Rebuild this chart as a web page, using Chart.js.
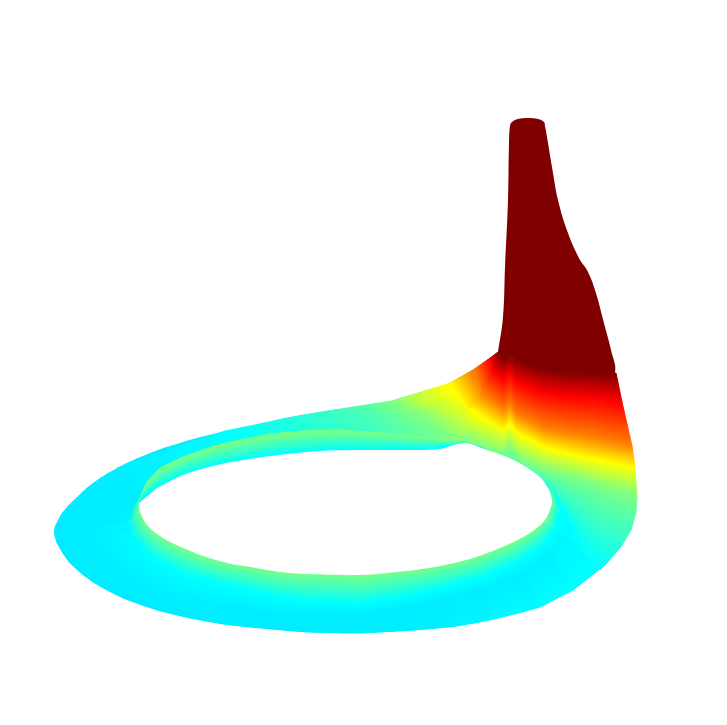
<!DOCTYPE html>
<html>
<head>
<meta charset="utf-8">
<title>Surface</title>
<script src="https://cdn.jsdelivr.net/npm/chart.js@4/dist/chart.umd.min.js"></script>
<style>
  html, body { margin: 0; padding: 0; background: #fff; }
  canvas { display: block; }
</style>
</head>
<body>
<canvas id="chart" width="727" height="725"></canvas>
<script>
// outlines, [x, y]
const outerEdge = [[498,352],[480,365],[460,377],[440,387],[420,393],[392,401],[360,406],[320,412],[285,418],[250,426],[217,433],[183,442],[150,453],[117,468],[93,483],[77,497],[63,512],[55,527],[54,533],[57,543],[70,563],[93,582],[123,598],[157,610],[190,618],[223,624],[250,627],[307,632],[360,633],[415,630],[457,626],[490,620],[540,607],[555,599],[573,590],[590,577],[607,563],[615,553],[623,543],[628,535],[632,523],[634,510],[634,497],[633,480],[631,467],[628,446],[618,402],[610,380],[505,365]];
const holeEdge = [[139,503],[140,512],[147,525],[157,534],[170,542],[188,550],[200,555],[227,563],[250,567],[280,572],[307,574],[360,575],[407,571],[440,566],[473,558],[507,545],[530,533],[545,520],[552,502],[548,488],[540,477],[523,465],[507,457],[487,450],[465,443],[440,449],[420,450],[387,450],[353,450],[320,451],[287,454],[250,459],[217,465],[183,475],[157,488]];
const spire = [[498,352],[503,317],[505,267],[508,200],[509,143],[510,126],[512,122],[518,119],[528,118],[538,119],[544,122],[545,126],[547,137],[552,167],[558,200],[568,233],[580,260],[587,270],[595,290],[605,327],[611,350],[615,372],[605,373],[590,373],[565,372],[540,368],[516,360],[510,357],[504,358],[500,356]];

// back strip, iso lines crossing it from left to right
const stripRow1 = [[117,468],[125,482],[133,500]];
const stripRow2 = [[225,431],[232,438],[240,447]];
const stripRow3 = [[310,414],[330,424],[350,440]];
const stripRow4 = [[360,406],[378,420],[400,440]];
const stripRow5 = [[392,401],[430,422],[463,441]];
const stripRow6 = [[448,384],[458,397],[470,410]];
const stripValues = [0.358, 0.375, 0.42, 0.45, 0.5, 0.625];

// rim along the top of the strip where it bends towards the spire
const rimRow1 = [[392,401],[405,409]];
const rimRow2 = [[420,393],[430,406]];
const rimRow3 = [[448,384],[452,392]];
const rimValues = [0.5, 0.57, 0.625];

// inner wall behind the hole
const wallTop = [[128,523],[133,510],[140,497],[147,482],[160,468],[183,457],[217,445],[250,438],[270,434],[303,431],[337,430],[370,432],[403,435],[437,438],[463,442]];
const wallBottom = [[139,510],[139,505],[139,502],[148,494],[157,488],[183,475],[217,465],[250,459],[287,454],[320,451],[353,450],[387,450],[420,450],[440,449],[465,443]];
const wallTopValues = [0.39,0.42,0.47,0.5,0.5,0.5,0.5,0.5,0.5,0.5,0.5,0.5,0.5,0.5,0.5];
const wallBottomValue = 0.375;

// front of the ring, same stations on each row
const frontHole = [[139,503],[140,512],[147,525],[157,534],[170,542],[188,550],[200,555],[227,563],[250,567],[280,572],[307,574],[360,575],[407,571],[440,566],[473,558],[507,545],[530,533],[545,520],[552,502],[548,488]];
const frontCyan = [[133,507],[128,522],[131,533],[142,548],[155,559],[172,568],[185,574],[217,583],[245,589],[275,597],[300,601],[360,605],[415,595],[450,586],[485,577],[522,560],[545,543],[556,528],[560,510],[555,493]];
const frontRidge = [[100,515],[95,525],[98,538],[110,553],[125,568],[140,577],[155,587],[190,600],[225,607],[265,612],[295,614],[360,614],[418,604],[455,597],[490,588],[527,572],[552,553],[564,536],[568,515],[562,497]];
const frontOuter = [[63,512],[55,527],[57,543],[70,563],[93,582],[123,598],[157,610],[190,618],[223,624],[250,627],[307,632],[360,633],[415,630],[457,626],[490,620],[540,607],[573,590],[607,563],[623,543],[633,523]];
const frontHoleValue = 0.49;
const frontCyanValues = [0.358,0.362,0.37,0.375,0.375,0.375,0.375,0.375,0.375,0.375,0.375,0.375,0.375,0.375,0.375,0.375,0.375,0.375,0.375,0.375];
const frontRidgeValues = [0.358,0.358,0.36,0.36,0.36,0.36,0.36,0.36,0.358,0.358,0.358,0.358,0.358,0.358,0.358,0.358,0.362,0.37,0.375,0.375];
const frontOuterValues = [0.358,0.358,0.355,0.355,0.355,0.355,0.355,0.355,0.355,0.355,0.355,0.355,0.358,0.362,0.368,0.375,0.375,0.375,0.375,0.375];

// lower right of the ring, iso lines run towards the outer edge
const rightRow50 = [[480,445],[510,447],[520,460],[547,470],[570,476],[600,485],[637,497]];
const rightRow47 = [[495,455],[520,462],[533,470],[556,480],[580,489],[610,502],[636,512]];
const rightRow44 = [[505,465],[530,470],[545,480],[560,490],[582,505],[605,522],[631,530]];
const rightRow41 = [[520,475],[540,478],[550,490],[563,502],[579,520],[596,538],[620,548]];
const rightRow375 = [[535,490],[548,485],[556,498],[565,512],[574,532],[584,553],[600,570]];
const rightValues = [0.5, 0.47, 0.44, 0.41, 0.375];

// foot of the spire, iso lines from the back edge to the right edge
const footRow100 = [[498,352],[500,356],[504,358],[510,357],[516,360],[540,368],[565,372],[590,373],[616,373]];
const footRow88 = [[490,358],[493,372],[504,380],[510,374],[516,382],[540,392],[565,396],[590,398],[622,402]];
const footRow75 = [[473,370],[482,392],[503,410],[510,404],[516,414],[545,428],[570,433],[600,438],[632,446]];
const footRow63 = [[448,384],[470,410],[504,430],[510,424],[516,432],[545,448],[570,454],[600,461],[635,467]];
const footRow50 = [[392,401],[463,441],[503,452],[510,447],[520,460],[547,470],[570,476],[600,485],[637,497]];
const footValues = [1, 0.875, 0.75, 0.625, 0.5];

const baseValue = 0.358;
const spireValue = 1;

function jet(v) {
  const c = (a) => Math.round(255 * Math.max(0, Math.min(1, a)));
  const r = c(Math.min(4 * v - 1.5, -4 * v + 4.5));
  const g = c(Math.min(4 * v - 0.5, -4 * v + 3.5));
  const b = c(Math.min(4 * v + 0.5, -4 * v + 2.5));
  return `rgb(${r},${g},${b})`;
}

const toXY = (pts) => pts.map((p) => ({ x: p[0], y: p[1] }));

function polygon(pts, color, tension) {
  return {
    data: toXY(pts),
    showLine: true,
    fill: "shape",
    tension: tension || 0,
    pointRadius: 0,
    borderWidth: 0,
    borderColor: color,
    backgroundColor: color,
  };
}

// one row's value at one station gap, a row has one value or one per station
const rowValue = (v, j) => (Array.isArray(v) ? (v[j] + v[j + 1]) / 2 : v);

function sheet(rows, values) {
  const out = [];
  for (let i = 0; i < rows.length - 1; i++) {
    for (let j = 0; j < rows[i].length - 1; j++) {
      const a = rows[i][j], b = rows[i][j + 1], c = rows[i + 1][j + 1], d = rows[i + 1][j];
      const c0 = jet(rowValue(values[i], j));
      const c1 = jet(rowValue(values[i + 1], j));
      const paint = (ctx) => {
        const { x, y } = ctx.chart.scales;
        const px = [a, b, c, d].map((p) => [x.getPixelForValue(p[0]), y.getPixelForValue(p[1])]);
        // scales are not laid out on the first pass
        if (!px.flat().every(Number.isFinite)) return c0;
        const [pa, pb, pc, pd] = px;
        // gradient runs square to the mean direction of the two rows
        const dx = pb[0] - pa[0] + pc[0] - pd[0];
        const dy = pb[1] - pa[1] + pc[1] - pd[1];
        const n = Math.hypot(dx, dy) || 1;
        const nx = -dy / n, ny = dx / n;
        const fx = (pa[0] + pb[0]) / 2, fy = (pa[1] + pb[1]) / 2;
        const len = ((pc[0] + pd[0]) / 2 - fx) * nx + ((pc[1] + pd[1]) / 2 - fy) * ny;
        if (Math.abs(len) < 0.01) return c0;
        const g = ctx.chart.ctx.createLinearGradient(fx, fy, fx + nx * len, fy + ny * len);
        g.addColorStop(0, c0);
        g.addColorStop(1, c1);
        return g;
      };
      out.push({
        data: toXY([a, b, c, d, a]),
        showLine: true,
        fill: "shape",
        tension: 0,
        pointRadius: 0,
        borderWidth: 1,
        borderColor: paint,
        backgroundColor: paint,
      });
    }
  }
  return out;
}

// painted back to front
const layers = [
  polygon(outerEdge, jet(baseValue), 0.4),
  ...sheet([stripRow1, stripRow2, stripRow3, stripRow4, stripRow5, stripRow6], stripValues),
  ...sheet([wallTop, wallBottom], [wallTopValues, wallBottomValue]),
  ...sheet([frontCyan, frontRidge, frontOuter], [frontCyanValues, frontRidgeValues, frontOuterValues]),
  ...sheet([rightRow50, rightRow47, rightRow44, rightRow41, rightRow375], rightValues),
  ...sheet([frontHole, frontCyan], [frontHoleValue, frontCyanValues]),
  ...sheet([footRow100, footRow88, footRow75, footRow63, footRow50], footValues),
  ...sheet([rimRow1, rimRow2, rimRow3], rimValues),
  polygon(spire, jet(spireValue), 0.4),
  polygon(holeEdge, "#ffffff", 0.3),
];

new Chart(document.getElementById("chart"), {
  type: "scatter",
  // chart.js paints the first dataset last
  data: { datasets: layers.reverse() },
  options: {
    responsive: false,
    animation: false,
    layout: { padding: 0 },
    plugins: { legend: { display: false }, tooltip: { enabled: false } },
    scales: {
      x: { type: "linear", min: 0, max: 727, display: false },
      y: { type: "linear", min: 0, max: 725, reverse: true, display: false },
    },
  },
});
</script>
</body>
</html>
